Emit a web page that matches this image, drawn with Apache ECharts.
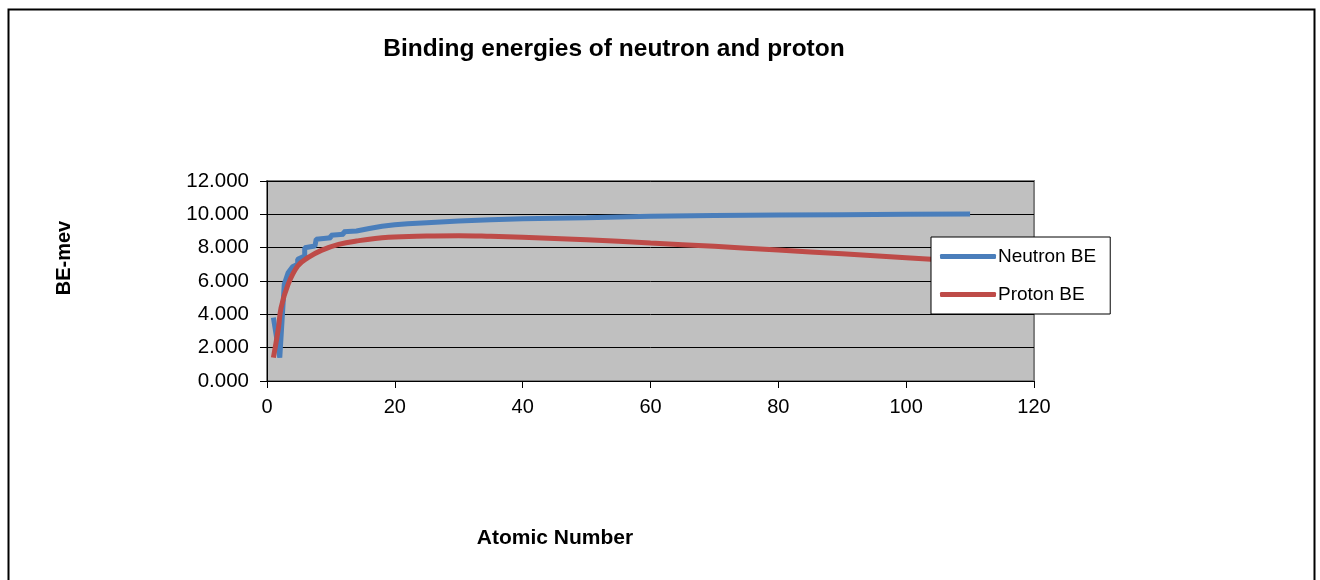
<!DOCTYPE html>
<html>
<head>
<meta charset="utf-8">
<script src="https://cdn.jsdelivr.net/npm/echarts@6/dist/echarts.min.js"></script>
<style>
html,body{margin:0;padding:0;background:#fff;}
#chart{width:1320px;height:580px;}
</style>
</head>
<body>
<div id="chart"></div>
<script>
var neutronX = [1, 2, 2.7, 3.3, 4, 4.8, 4.8, 5.9, 5.9, 7.5, 7.7, 10, 10, 12, 12, 14, 14, 16, 16, 18, 18, 20, 22, 25, 30, 35, 40, 45, 50, 60, 70, 80, 90, 100, 110];
var neutronY = [3.8, 1.4, 5.8, 6.5, 6.85, 7.0, 7.3, 7.5, 8.0, 8.1, 8.5, 8.6, 8.75, 8.8, 8.95, 9.0, 9.1, 9.15, 9.25, 9.28, 9.35, 9.38, 9.44, 9.5, 9.6, 9.67, 9.73, 9.77, 9.8, 9.88, 9.93, 9.96, 9.98, 10.0, 10.02];
var protonX = [1, 1.8, 2.2, 3.3, 4.8, 6.4, 8.5, 11.2, 14, 19, 25, 30, 35, 40, 50, 60, 70, 80, 90, 100, 110];
var protonY = [1.4, 3.2, 4.4, 5.8, 6.9, 7.4, 7.84, 8.2, 8.4, 8.62, 8.7, 8.72, 8.68, 8.62, 8.48, 8.28, 8.08, 7.86, 7.63, 7.4, 7.17];
var seriesNames = ['Neutron BE', 'Proton BE'];
var titleText = 'Binding energies of neutron and proton';
var xName = 'Atomic Number';
var yName = 'BE-mev';

function pairs(xs, ys){ return xs.map(function(x,i){ return [x, ys[i]]; }); }

var chart = echarts.init(document.getElementById('chart'));
chart.setOption({
  animation: false,
  backgroundColor: '#ffffff',
  title: {
    text: titleText, left: 609, top: 32, textAlign: 'center',
    textStyle: {fontFamily: 'Liberation Sans, Arial', fontWeight: 'bold', fontSize: 24.5, color: '#000'}
  },
  grid: {
    left: 267, right: 286, top: 181, bottom: 199,
    show: true, backgroundColor: '#c0c0c0', borderColor: '#808080', borderWidth: 2
  },
  legend: {
    orient: 'vertical', left: 931, top: 237, z: 20,
    data: seriesNames,
    backgroundColor: '#ffffff', borderColor: '#000', borderWidth: 1,
    padding: [10, 14, 10, 9], itemGap: 19, itemWidth: 56, itemHeight: 5,
    icon: 'roundRect',
    textStyle: {fontFamily: 'Liberation Sans, Arial', fontSize: 19, color: '#000', padding: [0,0,0,-3]}
  },
  xAxis: {
    type: 'value', min: 0, max: 120, interval: 20,
    axisLine: {show: true, onZero: false, lineStyle: {color: '#000', width: 1}},
    axisTick: {show: true, length: 7, lineStyle: {color: '#000'}},
    axisLabel: {margin: 16, fontFamily: 'Liberation Sans, Arial', fontSize: 20, color: '#000'},
    splitLine: {show: false}
  },
  yAxis: {
    type: 'value', min: 0, max: 12, interval: 2,
    axisLine: {show: true, lineStyle: {color: '#000', width: 1}},
    axisTick: {show: true, length: 7, lineStyle: {color: '#000'}},
    axisLabel: {margin: 18, fontFamily: 'Liberation Sans, Arial', fontSize: 20.5, color: '#000',
      formatter: function(v){ return v.toFixed(3); }},
    splitLine: {show: true, lineStyle: {color: '#000', width: 1}}
  },
  graphic: [
    {type: 'rect', left: 6, top: 7, shape: {width: 1306, height: 600},
      style: {fill: 'none', stroke: '#000', lineWidth: 2}, silent: true},
    {type: 'text', x: 555, y: 538, style: {text: xName,
      font: 'bold 21px "Liberation Sans", Arial', fill: '#000', textAlign: 'center', textVerticalAlign: 'middle'}},
    {type: 'text', x: 64, y: 258, rotation: Math.PI/2, style: {text: yName,
      font: 'bold 20px "Liberation Sans", Arial', fill: '#000', textAlign: 'center', textVerticalAlign: 'middle'}}
  ],
  series: [
    {name: seriesNames[0], type: 'line', data: pairs(neutronX, neutronY), showSymbol: false,
      lineStyle: {color: '#4a7ebb', width: 5}, itemStyle: {color: '#4a7ebb'}, z: 3},
    {name: seriesNames[1], type: 'line', data: pairs(protonX, protonY), showSymbol: false, smooth: 0.4,
      lineStyle: {color: '#be4b48', width: 5}, itemStyle: {color: '#be4b48'}, z: 4}
  ]
});
</script>
</body>
</html>
